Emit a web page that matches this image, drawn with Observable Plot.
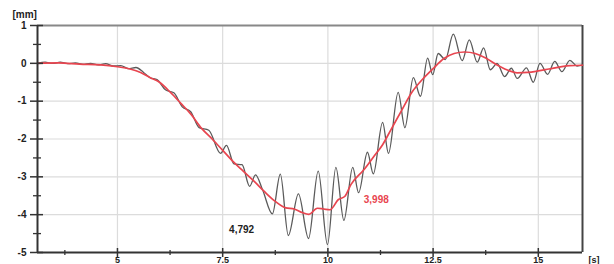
<!DOCTYPE html>
<html><head><meta charset="utf-8">
<script src="https://cdn.jsdelivr.net/npm/d3@7"></script>
<script src="https://cdn.jsdelivr.net/npm/@observablehq/plot@0.6"></script>
<style>body{margin:0;background:#fff}</style>
</head><body><div id="c"></div>
<script>
const xDomain = [3.1, 16.05];
const yDomain = [-5, 1];
const xMajor = [5, 7.5, 10, 12.5, 15];
const xMinor = [3.75, 6.25, 8.75, 11.25, 13.75];
const yMajor = [1, 0, -1, -2, -3, -4, -5];
const yMinor = [0.5, -0.5, -1.5, -2.5, -3.5, -4.5];

const rawT = [3.10,3.28,3.46,3.64,3.82,4.00,4.18,4.36,4.54,4.72,4.90,5.08,5.26,5.44,5.62,5.78,5.94,6.14,6.34,6.54,6.74,6.94,7.17,7.45,7.59,7.77,7.96,8.14,8.28,8.45,8.68,8.87,9.06,9.30,9.54,9.77,9.99,10.19,10.38,10.59,10.73,10.94,11.08,11.30,11.44,11.67,11.83,12.03,12.20,12.37,12.49,12.62,12.79,12.98,13.19,13.36,13.55,13.70,13.86,14.02,14.20,14.36,14.50,14.72,14.88,15.04,15.22,15.39,15.56,15.75,15.92,16.05];
const rawV = [0.00,0.03,0.00,0.03,-0.01,0.01,-0.03,0.00,-0.04,-0.01,-0.07,-0.06,-0.14,-0.11,-0.24,-0.38,-0.43,-0.70,-0.78,-1.15,-1.28,-1.70,-1.77,-2.38,-2.17,-2.66,-2.68,-3.25,-2.95,-3.35,-3.98,-2.93,-4.55,-3.45,-4.63,-2.85,-4.79,-2.75,-4.15,-2.75,-3.42,-2.35,-2.92,-1.56,-2.38,-0.77,-1.70,-0.38,-0.87,0.14,-0.30,0.26,0.10,0.77,0.07,0.62,0.03,0.41,-0.17,0.00,-0.35,-0.13,-0.40,-0.12,-0.50,0.00,-0.29,0.05,-0.22,0.08,-0.07,-0.05];

const filtT = [3.10,3.60,4.10,4.60,5.00,5.30,5.55,5.78,6.00,6.26,6.50,6.75,7.00,7.25,7.50,7.75,8.00,8.25,8.50,8.75,9.00,9.20,9.40,9.55,9.75,9.90,10.05,10.25,10.40,10.55,10.85,11.10,11.30,11.50,11.75,12.00,12.25,12.50,12.75,13.00,13.25,13.50,13.75,14.00,14.25,14.50,14.75,15.00,15.25,15.50,15.75,16.05];
const filtV = [0.00,0.01,-0.02,-0.04,-0.09,-0.15,-0.24,-0.38,-0.50,-0.77,-1.05,-1.35,-1.72,-2.00,-2.30,-2.60,-2.86,-3.12,-3.40,-3.65,-3.82,-3.85,-3.95,-3.99,-3.83,-3.85,-3.87,-3.60,-3.52,-3.20,-2.82,-2.45,-2.15,-1.75,-1.25,-0.76,-0.42,-0.14,0.12,0.26,0.30,0.26,0.14,-0.03,-0.17,-0.25,-0.24,-0.20,-0.15,-0.10,-0.06,-0.05];

const noteT = [7.95, 11.15];
const noteV = [-4.39, -3.62];
const noteLabel = ["4,792", "3,998"];
const noteColor = ["#222", "#e8454f"];

const raw = rawT.map((t, i) => ({t, v: rawV[i]}));
const filt = filtT.map((t, i) => ({t, v: filtV[i]}));
const notes = noteT.map((t, i) => ({t, v: noteV[i], label: noteLabel[i], color: noteColor[i]}));

const font = {fontSize: 10, fontWeight: "bold", fill: "#222"};

const chart = Plot.plot({
  width: 614, height: 264,
  marginLeft: 37, marginRight: 32, marginTop: 25, marginBottom: 12,
  style: {fontFamily: "Liberation Sans, Arial, sans-serif", overflow: "visible", background: "#fff"},
  x: {domain: xDomain, axis: null},
  y: {domain: yDomain, axis: null},
  marks: [
    Plot.gridX({ticks: xMajor, stroke: "#dcdcdc", strokeOpacity: 1, strokeWidth: 1.2}),
    Plot.gridY({ticks: yMajor, stroke: "#dcdcdc", strokeOpacity: 1, strokeWidth: 1.2}),
    Plot.ruleY([yDomain[1]], {stroke: "#888", strokeWidth: 1.8}),
    Plot.ruleX([xDomain[1]], {stroke: "#444", strokeWidth: 2}),
    Plot.line(raw, {x: "t", y: "v", stroke: "#5a5a5a", strokeWidth: 1.3, curve: "monotone-x"}),
    Plot.line(filt, {x: "t", y: "v", stroke: "#e8454f", strokeWidth: 1.7, curve: "monotone-x"}),
    Plot.ruleX([xDomain[0]], {stroke: "#333", strokeWidth: 2}),
    Plot.ruleY([yDomain[0]], {stroke: "#333", strokeWidth: 2}),
    Plot.axisY({ticks: yMajor, tickSize: 13, dx: 6, tickFormat: () => "", label: null, stroke: "#333", strokeWidth: 1.5}),
    Plot.axisY({ticks: yMinor, tickSize: 8, dx: 4, tickFormat: () => "", label: null, stroke: "#333", strokeWidth: 1.3}),
    Plot.axisX({ticks: xMajor, tickSize: 9, dy: -4, tickFormat: () => "", label: null, stroke: "#333", strokeWidth: 1.5}),
    Plot.axisX({ticks: xMinor, tickSize: 5, dy: -2, tickFormat: () => "", label: null, stroke: "#333", strokeWidth: 1.3}),
    Plot.axisY({ticks: yMajor, tickSize: 0, tickPadding: 11, tickFormat: d => String(d), label: null, ...font}),
    Plot.axisX({ticks: xMajor, tickSize: 0, tickPadding: 4, tickFormat: d => String(d), label: null, fontSize: 9, fontWeight: "bold", fill: "#222"}),
    Plot.text(["[mm]"], {frameAnchor: "top-left", dx: -25, dy: -15, ...font}),
    Plot.text(["[s]"], {frameAnchor: "bottom-right", dx: 17, dy: 10, fontSize: 9, fontWeight: "bold", fill: "#222"}),
    Plot.text(notes, {x: "t", y: "v", text: "label", fill: "color", fontSize: 10, fontWeight: "bold"})
  ]
});
document.getElementById("c").appendChild(chart);
</script>
</body></html>
